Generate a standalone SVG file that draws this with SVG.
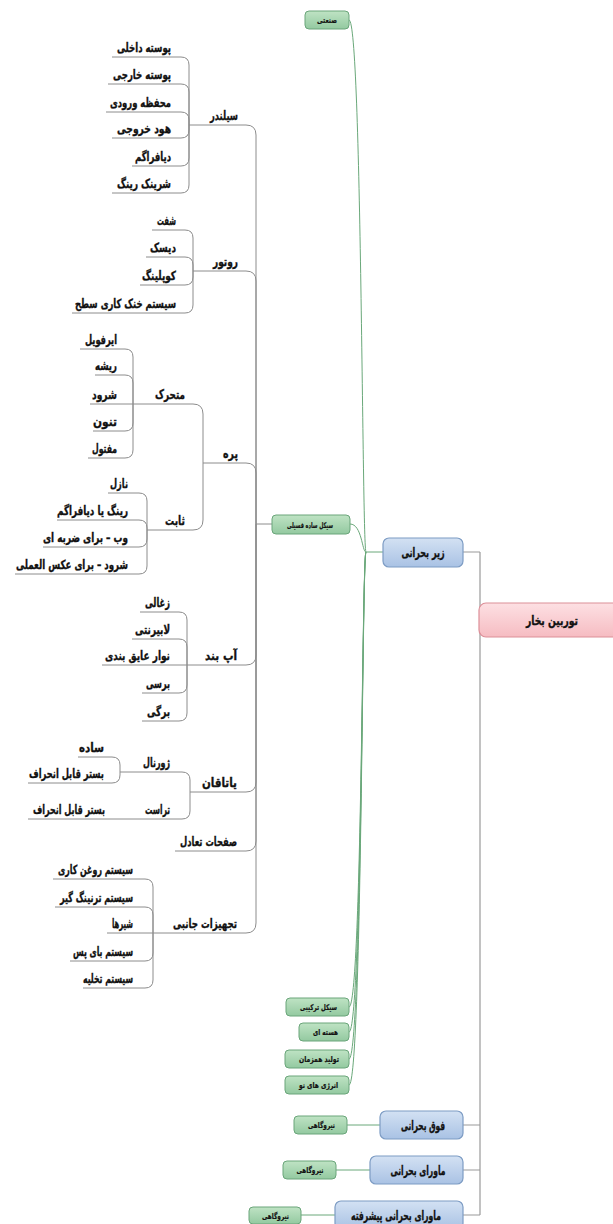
<svg xmlns="http://www.w3.org/2000/svg" width="613" height="1224" viewBox="0 0 613 1224">
  <defs>
    <linearGradient id="gGreen" x1="0" y1="0" x2="0" y2="1">
      <stop offset="0" stop-color="#bfe3c4"/>
      <stop offset="1" stop-color="#93c9a0"/>
    </linearGradient>
    <linearGradient id="gBlue" x1="0" y1="0" x2="0" y2="1">
      <stop offset="0" stop-color="#d3e1f3"/>
      <stop offset="1" stop-color="#a9c2e4"/>
    </linearGradient>
    <linearGradient id="gPink" x1="0" y1="0" x2="0" y2="1">
      <stop offset="0" stop-color="#fde0e3"/>
      <stop offset="1" stop-color="#f6bcc2"/>
    </linearGradient>
  </defs>
  <style>
    .bg { fill: #ffffff; }
    .tree { fill: none; stroke: #8c8c8c; stroke-width: 1; }
    .link { fill: none; stroke: #9a9a9a; stroke-width: 1.2; }
    .glink { fill: none; stroke: #6aa87a; stroke-width: 1; }
    .green rect { fill: url(#gGreen); stroke: #6aa57a; stroke-width: 1; }
    .blue rect { fill: url(#gBlue); stroke: #7d9cc4; stroke-width: 1.2; }
    .pink rect { fill: url(#gPink); stroke: #dc8f98; stroke-width: 1.2; }
    text { font-family: "DejaVu Sans", "Noto Sans", sans-serif; font-weight: bold; fill: #111111; stroke: #111111; stroke-width: 0.35; }
    .green text { font-size: 8px; text-anchor: middle; stroke-width: 0.2; }
    .blue text, .pink text { font-size: 12.5px; text-anchor: middle; }
    .lbl { font-size: 12.5px; text-anchor: end; }
  </style>
  <rect class="bg" x="0" y="0" width="613" height="1224"/>

  <!-- connectors -->
  <g id="connectors">
    <!-- root to the four pressure classes -->
    <path class="link" d="M 480 552 L 480 1215 M 463 552 L 480 552 M 463 1125 L 480 1125 M 463 1170 L 480 1170 M 463 1215 L 480 1215"/>
    <!-- supercritical classes to their applications -->
    <path class="glink" d="M 347 1125 L 380 1125 M 336 1170 L 370 1170 M 301 1215 L 335 1215"/>
    <!-- subcritical to its applications -->
    <path class="glink" d="M 383 552 L 366 552
      M 366 552 C 362 552, 362 20, 349 20
      M 366 552 C 362 552, 362 524, 350 524
      M 366 552 C 362 552, 362 1007, 349 1007
      M 366 552 C 362 552, 362 1032, 349 1032
      M 366 552 C 362 552, 362 1059, 349 1059
      M 366 552 C 362 552, 362 1085, 349 1085"/>
    <!-- simple fossil cycle to turbine parts -->
    <path class="tree" d="M 272 524 L 256 524
      M 256 524 L 256 135 Q 256 125 246 125 L 189 125
      M 256 524 L 256 281 Q 256 271 246 271 L 193 271
      M 256 524 L 256 473 Q 256 463 246 463 L 203 463
      M 256 524 L 256 655 Q 256 665 246 665 L 187 665
      M 256 524 L 256 782 Q 256 792 246 792 L 190 792
      M 256 524 L 256 841 Q 256 851 246 851 L 175 851
      M 256 524 L 256 923 Q 256 933 246 933 L 153 933"/>
    <!-- cylinder -->
    <path class="tree" d="M 189 125 L 189 65 Q 189 57 181 57 L 112 57
      M 189 125 L 189 92 Q 189 84 181 84 L 108 84
      M 189 125 L 189 120 Q 189 112 181 112 L 106 112
      M 189 125 L 189 130 Q 189 138 181 138 L 112 138
      M 189 125 L 189 158 Q 189 166 181 166 L 132 166
      M 189 125 L 189 185 Q 189 193 181 193 L 112 193"/>
    <!-- rotor -->
    <path class="tree" d="M 193 271 L 193 238 Q 193 230 185 230 L 152 230
      M 193 271 L 193 265 Q 193 257 185 257 L 146 257
      M 193 271 L 193 277 Q 193 285 185 285 L 140 285
      M 193 271 L 193 305 Q 193 313 185 313 L 72 313"/>
    <!-- blades -->
    <path class="tree" d="M 203 463 L 203 414 Q 203 404 193 404 L 133 404
      M 203 463 L 203 520 Q 203 530 193 530 L 147 530"/>
    <!-- moving blades -->
    <path class="tree" d="M 133 404 L 133 357 Q 133 349 125 349 L 80 349
      M 133 404 L 133 383 Q 133 375 125 375 L 95 375
      M 133 404 L 90 404
      M 133 404 L 133 423 Q 133 431 125 431 L 93 431
      M 133 404 L 133 450 Q 133 458 125 458 L 88 458"/>
    <!-- stationary blades -->
    <path class="tree" d="M 147 530 L 147 501 Q 147 493 139 493 L 108 493
      M 147 530 L 147 528 Q 147 520 139 520 L 57 520
      M 147 530 L 147 539 Q 147 547 139 547 L 43 547
      M 147 530 L 147 566 Q 147 574 139 574 L 15 574"/>
    <!-- seals -->
    <path class="tree" d="M 187 665 L 187 620 Q 187 612 179 612 L 140 612
      M 187 665 L 187 647 Q 187 639 179 639 L 132 639
      M 187 665 L 102 665
      M 187 665 L 187 685 Q 187 693 179 693 L 142 693
      M 187 665 L 187 713 Q 187 721 179 721 L 142 721"/>
    <!-- bearings -->
    <path class="tree" d="M 190 792 L 190 780 Q 190 772 182 772 L 120 772
      M 190 792 L 190 811 Q 190 819 182 819 L 120 819
      M 120 772 L 120 765 Q 120 757 112 757 L 78 757
      M 120 772 L 120 775 Q 120 783 112 783 L 28 783
      M 120 819 L 28 819"/>
    <!-- auxiliary equipment -->
    <path class="tree" d="M 153 933 L 153 887 Q 153 879 145 879 L 53 879
      M 153 933 L 153 915 Q 153 907 145 907 L 55 907
      M 153 933 L 107 933
      M 153 933 L 153 953 Q 153 961 145 961 L 70 961
      M 153 933 L 153 980 Q 153 988 145 988 L 83 988"/>
  </g>

  <!-- root -->
  <g id="n-root" class="pink">
    <rect x="479" y="603" width="150" height="34" rx="7"/>
    <text x="552" y="624.5" textLength="52" lengthAdjust="spacingAndGlyphs">توربین بخار</text>
  </g>

  <!-- pressure classes -->
  <g id="n-subcritical" class="blue">
    <rect x="383" y="538" width="80" height="29" rx="6"/>
    <text x="423" y="557" textLength="43" lengthAdjust="spacingAndGlyphs">زیر بحرانی</text>
  </g>
  <g id="n-supercritical" class="blue">
    <rect x="380" y="1111" width="83" height="28" rx="6"/>
    <text x="423" y="1129.5" textLength="44" lengthAdjust="spacingAndGlyphs">فوق بحرانی</text>
  </g>
  <g id="n-ultra" class="blue">
    <rect x="370" y="1156" width="93" height="28" rx="6"/>
    <text x="418" y="1174.5" textLength="55" lengthAdjust="spacingAndGlyphs">ماورای بحرانی</text>
  </g>
  <g id="n-advanced" class="blue">
    <rect x="335" y="1201" width="128" height="28" rx="6"/>
    <text x="396" y="1219.5" textLength="90" lengthAdjust="spacingAndGlyphs">ماورای بحرانی پیشرفته</text>
  </g>

  <!-- applications -->
  <g id="n-industrial" class="green">
    <rect x="305" y="11" width="44" height="18" rx="4"/>
    <text x="327" y="23" textLength="20" lengthAdjust="spacingAndGlyphs">صنعتی</text>
  </g>
  <g id="n-fossil" class="green">
    <rect x="272" y="515" width="78" height="19" rx="4"/>
    <text x="310" y="527.5" textLength="46" lengthAdjust="spacingAndGlyphs">سیکل ساده فسیلی</text>
  </g>
  <g id="n-combined" class="green">
    <rect x="286" y="998" width="63" height="18" rx="4"/>
    <text x="318.5" y="1010" textLength="37" lengthAdjust="spacingAndGlyphs">سیکل ترکیبی</text>
  </g>
  <g id="n-nuclear" class="green">
    <rect x="299" y="1023" width="50" height="18" rx="4"/>
    <text x="325.5" y="1035" textLength="25" lengthAdjust="spacingAndGlyphs">هسته ای</text>
  </g>
  <g id="n-cogen" class="green">
    <rect x="285" y="1050" width="64" height="18" rx="4"/>
    <text x="319" y="1062" textLength="40" lengthAdjust="spacingAndGlyphs">تولید همزمان</text>
  </g>
  <g id="n-renewable" class="green">
    <rect x="285" y="1076" width="64" height="18" rx="4"/>
    <text x="318.5" y="1088" textLength="39" lengthAdjust="spacingAndGlyphs">انرژی های نو</text>
  </g>
  <g id="n-plant-1" class="green">
    <rect x="294" y="1116" width="53" height="18" rx="4"/>
    <text x="321.5" y="1128" textLength="27" lengthAdjust="spacingAndGlyphs">نیروگاهی</text>
  </g>
  <g id="n-plant-2" class="green">
    <rect x="283" y="1161" width="53" height="18" rx="4"/>
    <text x="310" y="1173" textLength="27" lengthAdjust="spacingAndGlyphs">نیروگاهی</text>
  </g>
  <g id="n-plant-3" class="green">
    <rect x="249" y="1207" width="52" height="17" rx="4"/>
    <text x="275.5" y="1218.5" textLength="27" lengthAdjust="spacingAndGlyphs">نیروگاهی</text>
  </g>

  <!-- turbine parts -->
  <g id="n-cylinder"><text class="lbl" x="238" y="120" textLength="28" lengthAdjust="spacingAndGlyphs">سیلندر</text></g>
  <g id="n-inner-casing"><text class="lbl" x="171" y="52" textLength="54" lengthAdjust="spacingAndGlyphs">پوسته داخلی</text></g>
  <g id="n-outer-casing"><text class="lbl" x="171" y="79" textLength="58" lengthAdjust="spacingAndGlyphs">پوسته خارجی</text></g>
  <g id="n-inlet-chamber"><text class="lbl" x="171" y="107" textLength="61" lengthAdjust="spacingAndGlyphs">محفظه ورودی</text></g>
  <g id="n-exhaust-hood"><text class="lbl" x="171" y="133" textLength="54" lengthAdjust="spacingAndGlyphs">هود خروجی</text></g>
  <g id="n-diaphragm"><text class="lbl" x="171" y="161" textLength="36" lengthAdjust="spacingAndGlyphs">دیافراگم</text></g>
  <g id="n-shrink-ring"><text class="lbl" x="171" y="188" textLength="54" lengthAdjust="spacingAndGlyphs">شرینک رینگ</text></g>

  <g id="n-rotor"><text class="lbl" x="238" y="266" textLength="25" lengthAdjust="spacingAndGlyphs">روتور</text></g>
  <g id="n-shaft"><text class="lbl" x="176" y="225" textLength="19" lengthAdjust="spacingAndGlyphs">شفت</text></g>
  <g id="n-disk"><text class="lbl" x="176" y="252" textLength="26" lengthAdjust="spacingAndGlyphs">دیسک</text></g>
  <g id="n-coupling"><text class="lbl" x="176" y="280" textLength="34" lengthAdjust="spacingAndGlyphs">کوپلینگ</text></g>
  <g id="n-cooling"><text class="lbl" x="176" y="308" textLength="101" lengthAdjust="spacingAndGlyphs">سیستم خنک کاری سطح</text></g>

  <g id="n-blade"><text class="lbl" x="238" y="458" textLength="15" lengthAdjust="spacingAndGlyphs">پره</text></g>
  <g id="n-moving"><text class="lbl" x="185" y="399" textLength="30" lengthAdjust="spacingAndGlyphs">متحرک</text></g>
  <g id="n-airfoil"><text class="lbl" x="117" y="344" textLength="32" lengthAdjust="spacingAndGlyphs">ایرفویل</text></g>
  <g id="n-root-blade"><text class="lbl" x="117" y="370" textLength="22" lengthAdjust="spacingAndGlyphs">ریشه</text></g>
  <g id="n-shroud"><text class="lbl" x="117" y="399" textLength="25" lengthAdjust="spacingAndGlyphs">شرود</text></g>
  <g id="n-tenon"><text class="lbl" x="117" y="426" textLength="24" lengthAdjust="spacingAndGlyphs">تنون</text></g>
  <g id="n-lacing"><text class="lbl" x="117" y="453" textLength="25" lengthAdjust="spacingAndGlyphs">مفتول</text></g>
  <g id="n-stationary"><text class="lbl" x="185" y="525" textLength="20" lengthAdjust="spacingAndGlyphs">ثابت</text></g>
  <g id="n-nozzle"><text class="lbl" x="128" y="488" textLength="18" lengthAdjust="spacingAndGlyphs">نازل</text></g>
  <g id="n-ring-diaphragm"><text class="lbl" x="128" y="515" textLength="71" lengthAdjust="spacingAndGlyphs">رینگ یا دیافراگم</text></g>
  <g id="n-web"><text class="lbl" x="128" y="542" textLength="85" lengthAdjust="spacingAndGlyphs">وب – برای ضربه ای</text></g>
  <g id="n-shroud-reaction"><text class="lbl" x="128" y="569" textLength="112" lengthAdjust="spacingAndGlyphs">شرود – برای عکس العملی</text></g>

  <g id="n-seal"><text class="lbl" x="237" y="660" textLength="32" lengthAdjust="spacingAndGlyphs">آپ بند</text></g>
  <g id="n-carbon"><text class="lbl" x="170" y="607" textLength="25" lengthAdjust="spacingAndGlyphs">زغالی</text></g>
  <g id="n-labyrinth"><text class="lbl" x="170" y="634" textLength="35" lengthAdjust="spacingAndGlyphs">لابیرنتی</text></g>
  <g id="n-tape"><text class="lbl" x="170" y="660" textLength="65" lengthAdjust="spacingAndGlyphs">نوار عایق بندی</text></g>
  <g id="n-brush"><text class="lbl" x="170" y="688" textLength="24" lengthAdjust="spacingAndGlyphs">برسی</text></g>
  <g id="n-leaf"><text class="lbl" x="170" y="716" textLength="23" lengthAdjust="spacingAndGlyphs">برگی</text></g>

  <g id="n-bearing"><text class="lbl" x="237" y="787" textLength="35" lengthAdjust="spacingAndGlyphs">یاتاقان</text></g>
  <g id="n-journal"><text class="lbl" x="170" y="767" textLength="27" lengthAdjust="spacingAndGlyphs">ژورنال</text></g>
  <g id="n-plain"><text class="lbl" x="104" y="752" textLength="25" lengthAdjust="spacingAndGlyphs">ساده</text></g>
  <g id="n-tilting-1"><text class="lbl" x="104" y="778" textLength="75" lengthAdjust="spacingAndGlyphs">بستر قابل انحراف</text></g>
  <g id="n-thrust"><text class="lbl" x="170" y="814" textLength="25" lengthAdjust="spacingAndGlyphs">تراست</text></g>
  <g id="n-tilting-2"><text class="lbl" x="105" y="814" textLength="72" lengthAdjust="spacingAndGlyphs">بستر قابل انحراف</text></g>

  <g id="n-balance"><text class="lbl" x="237" y="846" textLength="57" lengthAdjust="spacingAndGlyphs">صفحات تعادل</text></g>

  <g id="n-auxiliary"><text class="lbl" x="237" y="928" textLength="64" lengthAdjust="spacingAndGlyphs">تجهیزات جانبی</text></g>
  <g id="n-lube"><text class="lbl" x="133" y="874" textLength="75" lengthAdjust="spacingAndGlyphs">سیستم روغن کاری</text></g>
  <g id="n-turning"><text class="lbl" x="133" y="902" textLength="73" lengthAdjust="spacingAndGlyphs">سیستم ترنینگ گیر</text></g>
  <g id="n-valves"><text class="lbl" x="133" y="928" textLength="21" lengthAdjust="spacingAndGlyphs">شیرها</text></g>
  <g id="n-bypass"><text class="lbl" x="133" y="956" textLength="60" lengthAdjust="spacingAndGlyphs">سیستم بای پس</text></g>
  <g id="n-drain"><text class="lbl" x="133" y="983" textLength="50" lengthAdjust="spacingAndGlyphs">سیستم تخلیه</text></g>
</svg>
